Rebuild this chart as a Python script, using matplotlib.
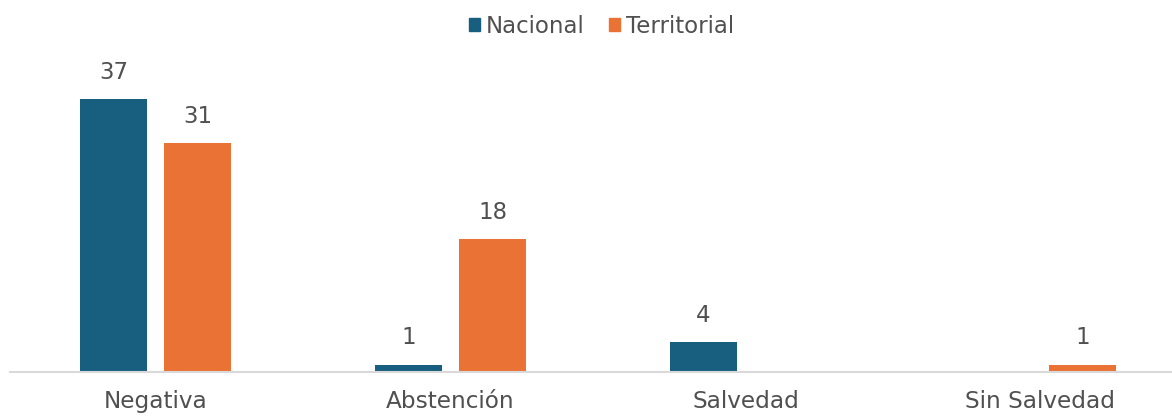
import matplotlib.pyplot as plt
from matplotlib.patches import Patch
import numpy as np

categorias = ['Negativa', 'Abstención', 'Salvedad', 'Sin Salvedad']
nacional = [37, 1, 4, 0]
territorial = [31, 18, 0, 1]

color_nac = '#175E7F'
color_ter = '#E97234'
gris = '#505050'

plt.rcParams['font.family'] = ['DejaVu Sans']

fig = plt.figure(figsize=(11.72, 4.16), dpi=100)
ax = fig.add_axes([10 / 1172, 44 / 416, 1 - 10 / 1172, 330 / 416])

x = np.arange(len(categorias))
ancho = 0.224
off = 0.1424
b1 = ax.bar(x - off, nacional, ancho, color=color_nac)
b2 = ax.bar(x + off, territorial, ancho, color=color_ter)

for barras, vals in ((b1, nacional), (b2, territorial)):
    for rect, v in zip(barras, vals):
        if v == 0:
            continue
        ax.annotate(str(v), (rect.get_x() + rect.get_width() / 2, v),
                    xytext=(0, 11), textcoords='offset points',
                    ha='center', va='bottom', fontsize=16.5, color=gris)

ax.set_xlim((10 - 155.5) / 295, (1172 - 155.5) / 295)
ax.set_ylim(0, 330 / 7.38)
ax.set_xticks(x)
ax.set_xticklabels(categorias, fontsize=16.7, color=gris)
ax.tick_params(axis='x', length=0, pad=13)
ax.set_yticks([])
for s in ['top', 'right', 'left']:
    ax.spines[s].set_visible(False)
ax.spines['bottom'].set_color('#D9D9D9')
ax.spines['bottom'].set_linewidth(1.5)

handles = [Patch(color=color_nac, label='Nacional'),
           Patch(color=color_ter, label='Territorial')]
leg = fig.legend(handles=handles, loc='center', bbox_to_anchor=(0.513, 0.937),
                 ncol=2, frameon=False, fontsize=16.5, handlelength=0.5,
                 handleheight=0.5, handletextpad=0.25, columnspacing=1.05)
for t in leg.get_texts():
    t.set_color(gris)

fig.savefig('out.png', dpi=100)
